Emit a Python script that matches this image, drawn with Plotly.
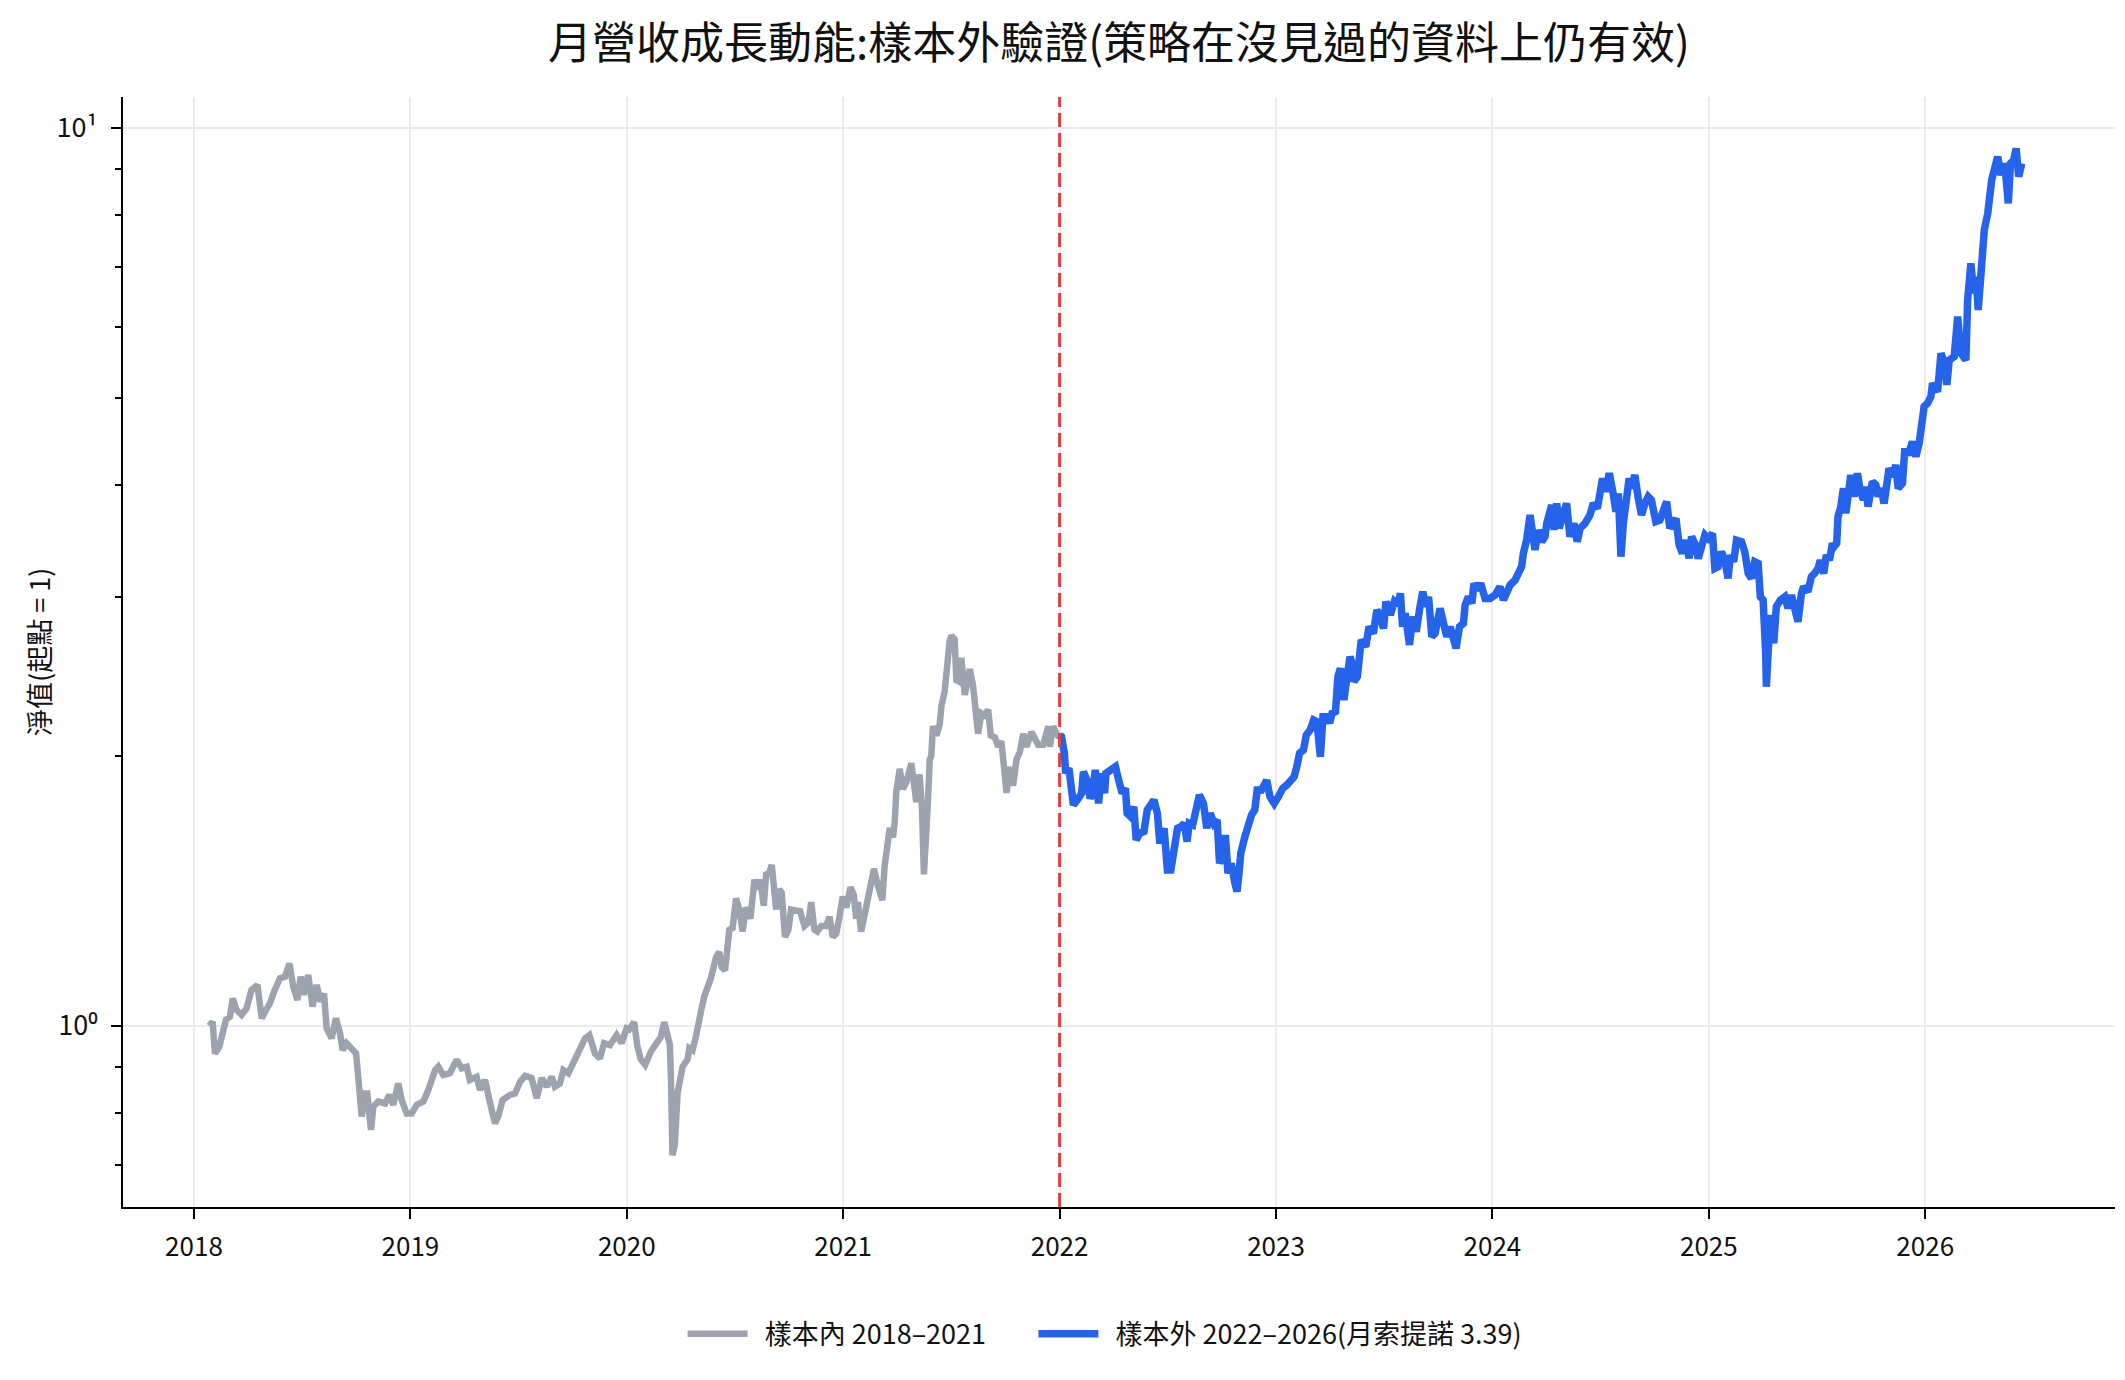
import plotly.graph_objects as go

# ---------------- data ----------------
in_sample_dates = [
    2018.071, 2018.086, 2018.097, 2018.117, 2018.136, 2018.148, 2018.166, 2018.179, 2018.197, 2018.220,
    2018.243, 2018.266, 2018.293, 2018.313, 2018.333, 2018.351, 2018.370, 2018.397, 2018.421, 2018.441,
    2018.459, 2018.478, 2018.493, 2018.508, 2018.528, 2018.548, 2018.567, 2018.585, 2018.601, 2018.613,
    2018.636, 2018.656, 2018.675, 2018.687, 2018.705, 2018.729, 2018.749, 2018.759, 2018.775, 2018.790,
    2018.801, 2018.818, 2018.829, 2018.852, 2018.883, 2018.903, 2018.921, 2018.944, 2018.960, 2018.983,
    2019.006, 2019.029, 2019.060, 2019.083, 2019.114, 2019.129, 2019.152, 2019.183, 2019.214, 2019.237,
    2019.260, 2019.275, 2019.306, 2019.322, 2019.345, 2019.365, 2019.391, 2019.406, 2019.426, 2019.460,
    2019.483, 2019.507, 2019.530, 2019.560, 2019.584, 2019.607, 2019.630, 2019.653, 2019.668, 2019.691,
    2019.707, 2019.730, 2019.753, 2019.784, 2019.807, 2019.827, 2019.853, 2019.876, 2019.895, 2019.922,
    2019.953, 2019.976, 2019.999,
    2020.011, 2020.034, 2020.049, 2020.065, 2020.085, 2020.111, 2020.134, 2020.157, 2020.173, 2020.188,
    2020.199, 2020.204, 2020.211, 2020.222, 2020.235, 2020.258, 2020.281, 2020.289, 2020.304, 2020.319,
    2020.327, 2020.343, 2020.358, 2020.373, 2020.389, 2020.412, 2020.427, 2020.438, 2020.454, 2020.463,
    2020.474, 2020.489, 2020.505, 2020.520, 2020.535, 2020.551, 2020.571, 2020.590, 2020.605, 2020.617,
    2020.633, 2020.644, 2020.659, 2020.670, 2020.682, 2020.690, 2020.705, 2020.716, 2020.731, 2020.747,
    2020.759, 2020.782, 2020.801, 2020.821, 2020.840, 2020.852, 2020.867, 2020.880, 2020.898, 2020.921,
    2020.937, 2020.952, 2020.968, 2020.983, 2020.998, 2021.014, 2021.034, 2021.049, 2021.060, 2021.068,
    2021.083, 2021.099, 2021.114, 2021.130, 2021.142, 2021.160, 2021.181, 2021.191, 2021.204, 2021.215,
    2021.230, 2021.238, 2021.245, 2021.261, 2021.276, 2021.292, 2021.315, 2021.330, 2021.338, 2021.353,
    2021.364, 2021.373, 2021.380, 2021.392, 2021.400, 2021.407, 2021.415, 2021.431, 2021.446, 2021.454,
    2021.469, 2021.477, 2021.492, 2021.500, 2021.515, 2021.523, 2021.539, 2021.546, 2021.562, 2021.577,
    2021.585, 2021.600, 2021.608, 2021.623, 2021.639, 2021.654, 2021.670, 2021.682, 2021.701, 2021.716,
    2021.731, 2021.739, 2021.755, 2021.770, 2021.785, 2021.801, 2021.816, 2021.832, 2021.847, 2021.870,
    2021.886, 2021.901, 2021.924, 2021.948, 2021.955, 2021.971, 2021.986, 2021.998,
]
in_sample_values = [
    1.000, 1.011, 0.932, 0.948, 0.990, 1.016, 1.024, 1.073, 1.042, 1.029,
    1.046, 1.097, 1.111, 1.020, 1.042, 1.060, 1.092, 1.130, 1.135, 1.174,
    1.106, 1.069, 1.135, 1.083, 1.140, 1.051, 1.111, 1.064, 1.087, 0.994,
    0.969, 1.020, 0.981, 0.940, 0.957, 0.940, 0.932, 0.878, 0.793, 0.841,
    0.841, 0.766, 0.813, 0.824, 0.820, 0.838, 0.817, 0.863, 0.827, 0.799,
    0.799, 0.817, 0.824, 0.849, 0.893, 0.901, 0.882, 0.886, 0.917, 0.897,
    0.901, 0.871, 0.878, 0.849, 0.871, 0.827, 0.779, 0.793, 0.827, 0.838,
    0.841, 0.867, 0.880, 0.875, 0.831, 0.875, 0.856, 0.878, 0.856, 0.863,
    0.893, 0.886, 0.909, 0.936, 0.969, 0.977, 0.932, 0.920, 0.957, 0.952,
    0.977, 0.957, 0.994,
    0.991, 1.010, 0.949, 0.918, 0.905, 0.936, 0.954, 0.972, 1.010, 0.981,
    0.954, 0.876, 0.718, 0.738, 0.843, 0.901, 0.918, 0.945, 0.940, 0.972,
    1.000, 1.039, 1.079, 1.100, 1.131, 1.192, 1.209, 1.164, 1.153, 1.209,
    1.280, 1.286, 1.387, 1.348, 1.274, 1.355, 1.317, 1.455, 1.420, 1.455,
    1.361, 1.475, 1.482, 1.511, 1.427, 1.348, 1.420, 1.407, 1.256, 1.280,
    1.348, 1.342, 1.342, 1.292, 1.304, 1.374, 1.280, 1.274, 1.292, 1.292,
    1.323, 1.256, 1.268, 1.323, 1.394, 1.355, 1.427, 1.400, 1.317, 1.374,
    1.274, 1.329, 1.387, 1.434, 1.496, 1.434, 1.380, 1.503, 1.591, 1.661,
    1.622, 1.685, 1.818, 1.933, 1.835, 1.870, 1.961, 1.861, 1.775, 1.906,
    1.750, 1.475, 1.653, 1.784, 1.980, 1.998, 2.156, 2.105, 2.166, 2.271,
    2.359, 2.509, 2.682, 2.720, 2.694, 2.427, 2.415, 2.570, 2.337, 2.439,
    2.497, 2.393, 2.261, 2.115, 2.229, 2.218, 2.250, 2.105, 2.095, 2.046,
    2.075, 1.961, 1.818, 1.943, 1.852, 1.980, 2.017, 2.115, 2.046, 2.125,
    2.085, 2.056, 2.056, 2.156, 2.046, 2.156, 2.115, 2.095,
]

out_sample_dates = [
    2022.000, 2022.009, 2022.022, 2022.028, 2022.043, 2022.056, 2022.064, 2022.087, 2022.102, 2022.110,
    2022.126, 2022.141, 2022.152, 2022.165, 2022.180, 2022.193, 2022.208, 2022.214, 2022.234, 2022.258,
    2022.273, 2022.289, 2022.304, 2022.312, 2022.328, 2022.343, 2022.354, 2022.370, 2022.390, 2022.405,
    2022.421, 2022.436, 2022.452, 2022.463, 2022.483, 2022.498, 2022.514, 2022.525, 2022.545, 2022.561,
    2022.576, 2022.589, 2022.599, 2022.615, 2022.630, 2022.646, 2022.665, 2022.680, 2022.696, 2022.713,
    2022.728, 2022.739, 2022.755, 2022.766, 2022.778, 2022.793, 2022.809, 2022.820, 2022.829, 2022.837,
    2022.856, 2022.871, 2022.887, 2022.902, 2022.913, 2022.933, 2022.957, 2022.972, 2022.992, 2023.011,
    2023.031, 2023.050, 2023.068, 2023.084, 2023.096, 2023.109, 2023.127, 2023.140, 2023.158, 2023.174,
    2023.189, 2023.205, 2023.217, 2023.236, 2023.248, 2023.259, 2023.275, 2023.286, 2023.298, 2023.314,
    2023.326, 2023.342, 2023.352, 2023.360, 2023.376, 2023.384, 2023.394, 2023.415, 2023.430, 2023.450,
    2023.466, 2023.481, 2023.497, 2023.508, 2023.528, 2023.547, 2023.562, 2023.575, 2023.585,
    2023.597, 2023.608, 2023.617, 2023.632, 2023.648, 2023.663, 2023.678, 2023.694, 2023.705, 2023.720,
    2023.735, 2023.758, 2023.774, 2023.789, 2023.805, 2023.817, 2023.832, 2023.848, 2023.866, 2023.874,
    2023.889, 2023.905, 2023.915, 2023.931, 2023.946, 2023.966, 2023.989, 2024.012, 2024.035, 2024.051,
    2024.066, 2024.082, 2024.105, 2024.120, 2024.135, 2024.143, 2024.158, 2024.174, 2024.186, 2024.197,
    2024.212, 2024.228, 2024.243, 2024.251, 2024.274, 2024.285, 2024.297, 2024.309, 2024.328, 2024.343,
    2024.358, 2024.377, 2024.392, 2024.405, 2024.428, 2024.451, 2024.466, 2024.485, 2024.497, 2024.509,
    2024.523, 2024.540, 2024.558, 2024.571, 2024.582, 2024.594, 2024.605, 2024.620, 2024.632, 2024.643,
    2024.658, 2024.674, 2024.689, 2024.705, 2024.720, 2024.735, 2024.755, 2024.774, 2024.789, 2024.805,
    2024.820, 2024.835, 2024.848, 2024.863, 2024.878, 2024.894, 2024.909, 2024.920, 2024.935, 2024.951,
    2024.966, 2024.982, 2024.997, 2025.017, 2025.028, 2025.043, 2025.058, 2025.074, 2025.089, 2025.100,
    2025.115, 2025.128, 2025.151, 2025.166, 2025.182, 2025.197, 2025.212, 2025.228, 2025.238, 2025.251,
    2025.263, 2025.266, 2025.274, 2025.285, 2025.300, 2025.312, 2025.331, 2025.351, 2025.366, 2025.382,
    2025.397, 2025.412, 2025.428, 2025.438, 2025.458, 2025.474, 2025.489, 2025.505, 2025.515, 2025.531,
    2025.543, 2025.558, 2025.571,
    2025.579, 2025.591, 2025.597, 2025.610, 2025.622, 2025.633, 2025.644, 2025.656, 2025.671, 2025.687,
    2025.699, 2025.715, 2025.725, 2025.736, 2025.756, 2025.772, 2025.782, 2025.795, 2025.810, 2025.823,
    2025.833, 2025.849, 2025.864, 2025.875, 2025.895, 2025.906, 2025.921, 2025.941, 2025.957, 2025.972,
    2025.983, 2025.995, 2026.011, 2026.026, 2026.034, 2026.057, 2026.073, 2026.091, 2026.100, 2026.111,
    2026.134, 2026.150, 2026.165, 2026.188, 2026.196, 2026.211, 2026.224, 2026.235, 2026.245, 2026.258,
    2026.265, 2026.273, 2026.289, 2026.296, 2026.307, 2026.319, 2026.335, 2026.350, 2026.363, 2026.373,
    2026.384, 2026.394, 2026.409, 2026.420, 2026.432, 2026.446,
]
out_sample_values = [
    2.108, 2.099, 2.012, 1.911, 1.936, 1.816, 1.762, 1.792, 1.816, 1.919,
    1.878, 1.792, 1.816, 1.928, 1.769, 1.911, 1.816, 1.911, 1.928, 1.944,
    1.878, 1.816, 1.839, 1.725, 1.710, 1.754, 1.611, 1.639, 1.646, 1.740,
    1.762, 1.785, 1.725, 1.597, 1.660, 1.492, 1.492, 1.543, 1.660, 1.667,
    1.681, 1.604, 1.681, 1.674, 1.762, 1.808, 1.769, 1.660, 1.725, 1.681,
    1.696, 1.517, 1.550, 1.632, 1.479, 1.517, 1.447, 1.411, 1.479, 1.557,
    1.624, 1.681, 1.718, 1.740, 1.831, 1.831, 1.878, 1.800, 1.769, 1.800,
    1.839, 1.855, 1.871, 1.895, 1.944, 2.012, 2.029, 2.108, 2.136, 2.191,
    2.182, 1.994, 2.210, 2.210, 2.173, 2.229, 2.239, 2.448, 2.501, 2.306,
    2.427, 2.577, 2.533, 2.417, 2.448, 2.644, 2.690, 2.644, 2.783, 2.736,
    2.905, 2.856, 2.771, 2.968, 2.868, 2.968, 2.943, 3.031, 2.783,
    2.880, 2.736, 2.656, 2.856, 2.748, 2.905, 3.044, 2.930, 3.005, 2.713,
    2.736, 2.917, 2.819, 2.713, 2.783, 2.701, 2.633, 2.783, 2.807, 2.943,
    3.005, 2.955, 3.110, 3.057, 3.110, 2.992, 2.992, 3.018, 3.084, 2.980,
    3.031, 3.097, 3.137, 3.204, 3.246, 3.358, 3.475, 3.706, 3.520, 3.388,
    3.566, 3.461, 3.505, 3.627, 3.802, 3.566, 3.818, 3.581, 3.722, 3.818,
    3.505, 3.627, 3.461, 3.581, 3.627, 3.706, 3.818, 3.770, 3.917, 4.071,
    3.934, 4.124, 3.917, 3.737, 3.917, 3.330, 3.627, 3.951, 4.071, 3.968,
    4.106, 3.867, 3.706, 3.818, 3.884, 3.851, 3.643, 3.658, 3.737, 3.835,
    3.581, 3.627, 3.674, 3.431, 3.358, 3.475, 3.316, 3.505, 3.446, 3.316,
    3.417, 3.520, 3.490, 3.535, 3.232, 3.246, 3.373, 3.301, 3.150, 3.344,
    3.287, 3.475, 3.461, 3.373, 3.190, 3.150, 3.287, 3.273, 3.005, 2.980,
    2.599, 2.386, 2.599, 2.868, 2.667, 2.930, 2.980, 3.005, 2.917, 3.018,
    2.917, 2.819, 3.031, 3.084, 3.044, 3.164, 3.190, 3.232, 3.301, 3.190,
    3.344, 3.301, 3.446,
    3.417, 3.446, 3.690, 3.786, 3.968, 3.722, 3.884, 4.106, 3.884, 4.124,
    3.951, 3.851, 3.985, 3.786, 4.036, 4.002, 3.884, 3.968, 3.818, 4.019,
    4.177, 4.088, 4.213, 3.968, 4.019, 4.396, 4.322, 4.472, 4.303, 4.453,
    4.687, 4.892, 4.934, 5.019, 5.193, 5.083, 5.609, 5.443, 5.171, 5.513,
    5.560, 6.161, 5.609, 5.513, 6.430, 7.063, 6.541, 6.826, 6.266, 6.826,
    7.499, 7.693, 8.028, 8.379, 8.745, 8.973, 9.284, 8.858, 9.127, 8.820,
    8.238, 9.127, 9.205, 9.484, 8.820, 9.127,
]

assert len(in_sample_dates) == len(in_sample_values)
assert len(out_sample_dates) == len(out_sample_values)

split_year = 2022
year_ticks = [2018, 2019, 2020, 2021, 2022, 2023, 2024, 2025, 2026]
year_labels = [str(y) for y in year_ticks]
y_major_ticks = [1, 10]
y_major_labels = ["10\u2070", "10\u00b9"]
y_minor_ticks = [0.7, 0.8, 0.9, 2, 3, 4, 5, 6, 7, 8, 9]

title_text = "月營收成長動能:樣本外驗證(策略在沒見過的資料上仍有效)"
in_label = "樣本內 2018–2021"
out_label = "樣本外 2022–2026(月索提諾 3.39)"
y_title = "淨值(起點 = 1)"

FONT = "Noto Sans CJK TC, Noto Sans, sans-serif"
NB = "\u00a0"

fig = go.Figure()
fig.add_trace(go.Scatter(
    x=in_sample_dates, y=in_sample_values, mode="lines",
    name=NB * 2 + in_label + NB * 7,
    line=dict(color="#9ca3af", width=6.5),
))
fig.add_trace(go.Scatter(
    x=out_sample_dates, y=out_sample_values, mode="lines",
    name=NB * 2 + out_label,
    line=dict(color="#2563eb", width=7.5),
))

fig.add_shape(type="line", xref="x", yref="paper", x0=split_year, x1=split_year, y0=0, y1=1,
              line=dict(color="#e53e3e", width=3, dash="14px,6px"), layer="above")

fig.add_annotation(text=y_title, xref="paper", yref="paper", x=-0.0427, y=0.5,
                   xanchor="center", yanchor="middle", textangle=-90, showarrow=False,
                   font=dict(family=FONT, size=27, color="#111111"))

fig.update_layout(
    width=2109, height=1364,
    margin=dict(l=115, r=2, t=89, b=165),
    paper_bgcolor="white", plot_bgcolor="white",
    font=dict(family=FONT, size=26, color="#111111"),
    title=dict(text=title_text, xref="paper", x=0.5, xanchor="center",
               yref="container", y=0.9736, yanchor="middle",
               font=dict(family=FONT, size=44, color="#111111")),
    showlegend=True,
    legend=dict(orientation="h", x=0.493, xanchor="center", y=-0.1146, yanchor="middle",
                font=dict(family=FONT, size=27, color="#111111"),
                itemwidth=60, bgcolor="rgba(0,0,0,0)"),
    xaxis=dict(
        range=[2017.672, 2026.877], tickmode="array", tickvals=year_ticks, ticktext=year_labels,
        showgrid=True, gridcolor="#ebebeb", gridwidth=1.5, zeroline=False,
        showline=True, linecolor="black", linewidth=2,
        ticks="outside", ticklen=10, tickwidth=2, tickcolor="black",
        ticklabelstandoff=6, tickfont=dict(family=FONT, size=26, color="#111111"),
    ),
    yaxis=dict(
        type="log", range=[-0.2015, 1.0342], tickmode="array",
        tickvals=y_major_ticks, ticktext=y_major_labels,
        showgrid=True, gridcolor="#ebebeb", gridwidth=1.5, zeroline=False,
        showline=True, linecolor="black", linewidth=2,
        ticks="outside", ticklen=10, tickwidth=2, tickcolor="black",
        ticklabelstandoff=8, tickfont=dict(family=FONT, size=27, color="#111111"),
        minor=dict(tickmode="array", tickvals=y_minor_ticks, ticks="outside", ticklen=6,
                   tickwidth=2, tickcolor="black", showgrid=False),
    ),
)

fig.write_html("out.html")
